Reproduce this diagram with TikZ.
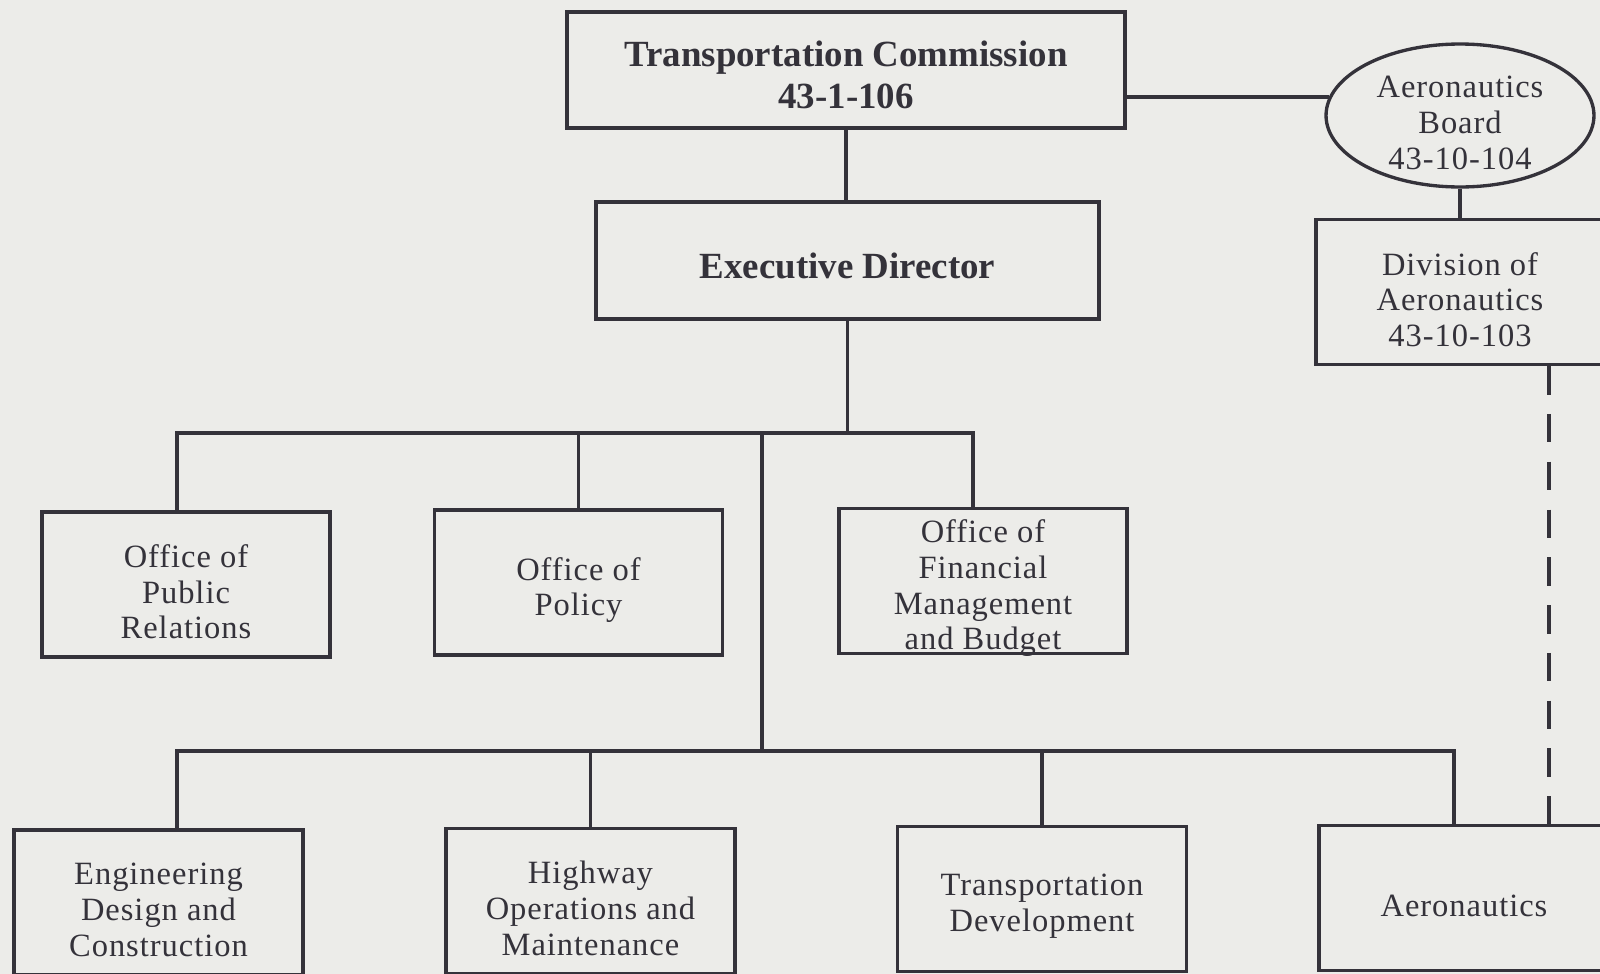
\documentclass[tikz,border=0pt]{standalone}
\usepackage{fontspec}
\setmainfont{Liberation Serif}
\newfontfamily\boxfont[LetterSpace=3]{Liberation Serif}
\usepackage{xcolor}
\usepackage{tikz}
\usetikzlibrary{shapes.geometric}

\definecolor{paper}{RGB}{236,236,233}
\definecolor{ink}{RGB}{52,50,58}

\begin{document}
\begin{tikzpicture}[x=0.02cm, y=-0.02cm,
  txt/.style={align=center, text=ink, inner sep=0pt, yshift=-0.15cm,
    font=\boxfont\fontsize{18.5}{20.3}\selectfont},
  unit/.style={draw=ink, line width=1.9pt, inner sep=0pt,
    minimum width=5.76cm, minimum height=2.9cm, label={[txt]center:#1}},
  head/.style={draw=ink, line width=2.6pt, inner sep=0pt,
    label={[txt, font=\bfseries\fontsize{21}{23.7}\selectfont, yshift=0.05cm]center:#1}},
  link/.style={draw=ink, line width=1.8pt}]
  \useasboundingbox (0,0) rectangle (1600,974);
  \clip (0,0) rectangle (1600,974);
  \fill[paper] (0,0) rectangle (1600,974);

  % commission, director, aeronautics board
  \node[head={Transportation Commission\\43-1-106}, minimum width=11.16cm, minimum height=2.32cm] (tc) at (846,70) {};
  \node[head={Executive Director}, minimum width=10.06cm, minimum height=2.34cm, line width=2.4pt] (ed) at (847.5,260.5) {};
  \node[unit={Aeronautics\\Board\\43-10-104}, ellipse, minimum width=5.36cm, minimum height=2.86cm] (ab) at (1460,115.5) {};
  \node[unit={Division of\\Aeronautics\\43-10-103}] (div) at (1460,292) {};

  % offices
  \node[unit={Office of\\Public\\Relations}] (pr) at (186,584.5) {};
  \node[unit={Office of\\Policy}] (pol) at (578.5,582.5) {};
  \node[unit={Office of\\Financial\\Management\\and Budget}] (fin) at (983,581) {};

  % divisions
  \node[unit={Engineering\\Design and\\Construction}, minimum width=5.78cm] (eng) at (158.5,902.5) {};
  \node[unit={Highway\\Operations and\\Maintenance}, minimum width=5.78cm] (hwy) at (590.5,901) {};
  \node[unit={Transportation\\Development}, minimum width=5.78cm] (td) at (1042,899) {};
  \node[unit={Aeronautics}, minimum width=5.8cm] (aero) at (1464,898) {};

  \coordinate (b1) at (177,433);
  \coordinate (b3) at (973,433);
  \coordinate (spine) at (762,433);
  \coordinate (b4) at (177,751);
  \coordinate (b7) at (1454,751);
  \coordinate (dash) at (1549,0);

  \draw[link] (tc.south) -- (tc.south |- ed.north);
  \draw[link] (tc.east |- ab.172) -- (ab.172);
  \draw[link] (ab.south) -- (div.north);
  \draw[link] (ed.south) -- (ed.south |- b1);
  \draw[link] (pr.north -| b1) -- (b1) -- (b3) -- (fin.north -| b3);
  \draw[link] (pol.north) -- (pol.north |- b1);
  \draw[link] (spine) -- (spine |- b4);
  \draw[link] (eng.north -| b4) -- (b4) -- (b7) -- (aero.north -| b7);
  \draw[link] (hwy.north) -- (hwy.north |- b4);
  \draw[link] (td.north) -- (td.north |- b4);
  \draw[link, dash pattern=on 0.568cm off 0.388cm] (div.south -| dash) -- (aero.north -| dash);
\end{tikzpicture}
\end{document}
